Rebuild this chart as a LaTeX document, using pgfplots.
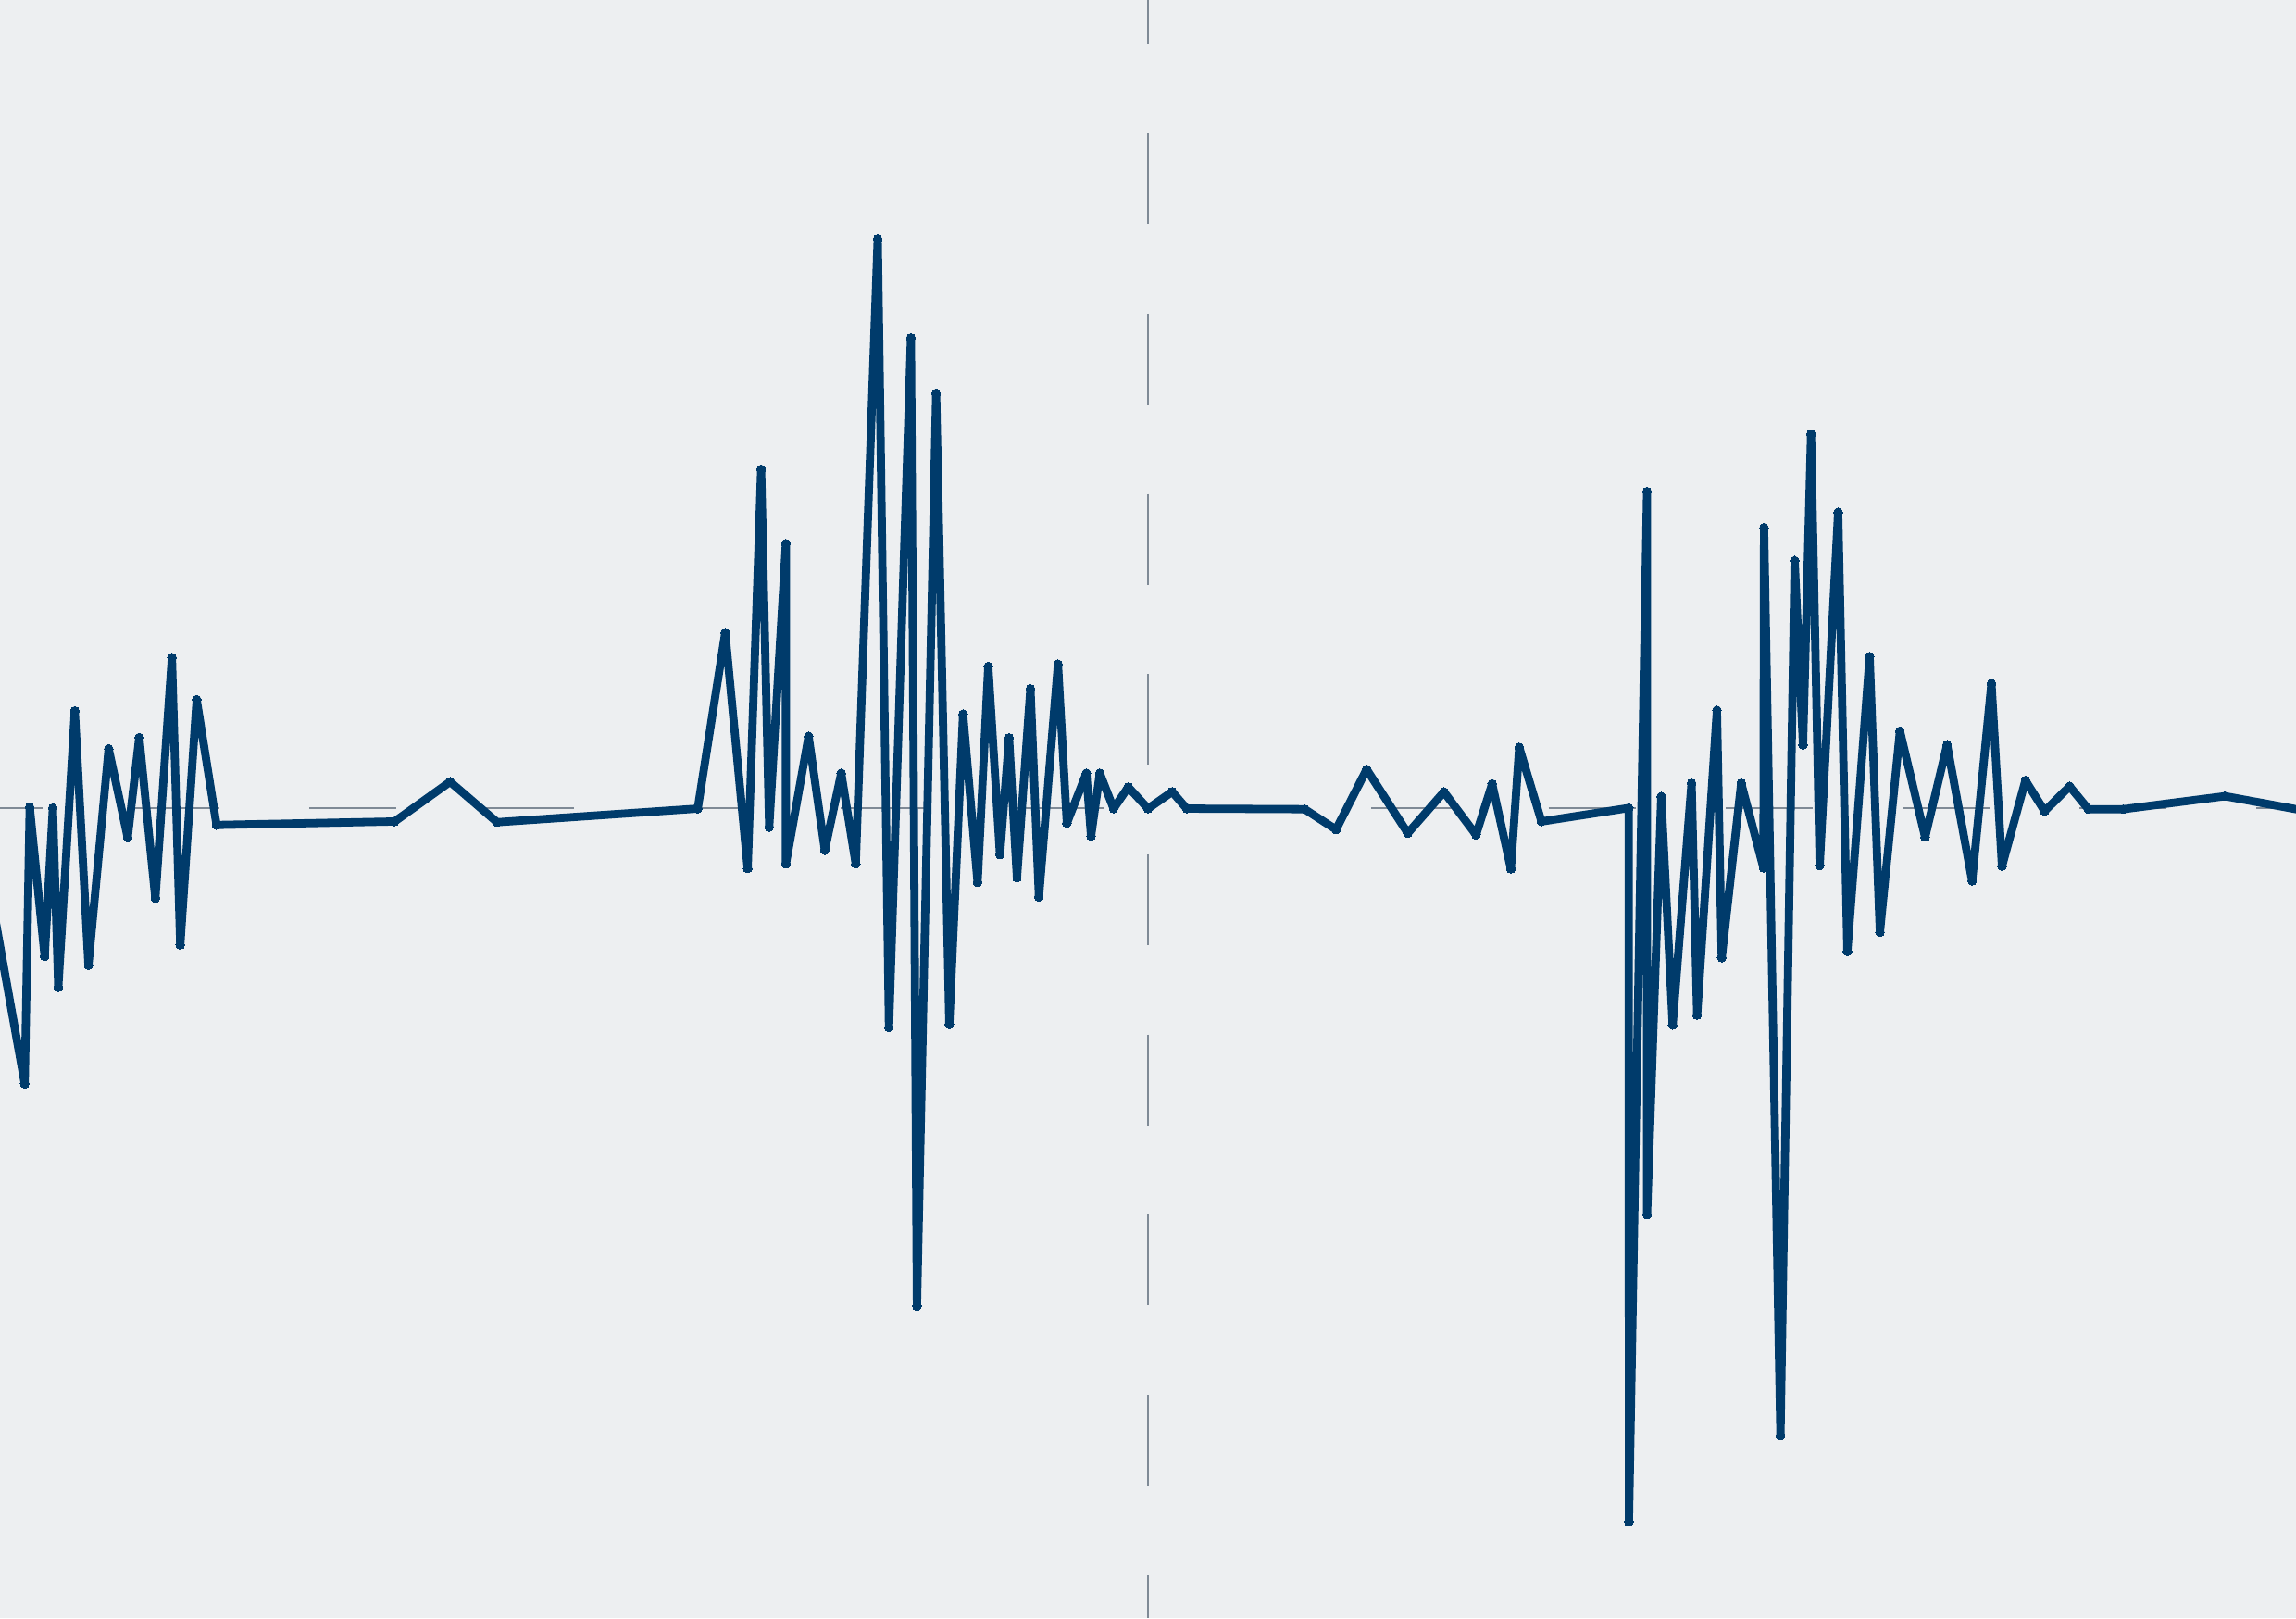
\documentclass[border=0pt]{standalone}
\usepackage{pgfplots}
\pgfplotsset{compat=1.18}
\definecolor{bgcol}{HTML}{EDEFF1}
\definecolor{linecol}{HTML}{003B6B}
\definecolor{refcol}{HTML}{7F8A96}
\pgfplotstableread{
x y
-10 -38
16.9 -188.1
20.3 0.7
30.5 -101
36.1 0.2
39.8 -122.2
51.1 66.5
60.4 -107
74.2 40.6
87.2 -19.9
95.1 48.3
106.1 -61.3
117.4 103
123.1 -93.2
134.3 74.2
147.9 -11.4
269.5 -9
307.4 18.1
339.5 -9.5
476.5 -0.2
495.3 119.9
510.6 -41.1
519.8 231.5
525.3 -12.8
536.7 180.7
536.7 -37.9
552.2 49.1
563.3 -28.5
574.5 23.9
584.4 -37.9
599.4 388.8
607.1 -149.6
622.1 321.2
626.2 -339.9
639.3 283.4
648.3 -147.5
657.7 64.3
667.6 -50.5
674.9 96.8
682.9 -31.6
689.1 48
694.5 -47.4
703.7 81.6
709.5 -60.5
722.5 98.4
728.6 -10.1
741.9 23.9
745.1 -19
751.1 23.9
760.5 -0.2
770.5 14.5
784 -0.2
800.5 11.3
810.4 -0.2
891 -0.6
912.4 -14.5
933.3 26.6
961.4 -17
986.1 11.2
1008 -18.1
1019 16.7
1031.8 -41.3
1037.5 41.6
1052.7 -9
1112.3 0.2
1112.4 -487.2
1124.8 216.3
1124.8 -277.5
1134.5 8
1142.3 -148
1155.2 17.1
1159 -141.2
1172.5 66.9
1175.8 -101.9
1189.1 17.1
1204.3 -40.6
1204.7 191.6
1215.9 -428.5
1225.6 169.1
1231.3 43.3
1236.8 255.6
1242.7 -39
1255.3 202.1
1261.6 -97.7
1276.8 103.6
1283.8 -84.6
1297.5 52.7
1314.7 -19.6
1329.7 43.3
1346.8 -49.5
1360 85.2
1367.2 -39.5
1383.2 19
1396.3 -1.9
1413.4 15
1426.2 -0.6
1450 -0.6
1519.5 8.3
1580 -2.8
}\signal
\begin{document}
\begin{tikzpicture}
\fill[bgcol] (0,0) rectangle (24.8cm,17.48cm);
\begin{axis}[
  at={(0,0)}, anchor=south west,
  scale only axis, width=24.8cm, height=17.48cm,
  xmin=0, xmax=1568, ymin=-553, ymax=552,
  hide axis, clip=true,
]
\draw[refcol, line width=0.65pt, dash pattern=on 27.9pt off 27.5pt, dash phase=14.4pt]
  (axis cs:784,552) -- (axis cs:784,-553);
\draw[refcol, line width=0.5pt, dash pattern=on 26.8pt off 27.6pt, dash phase=13.7pt]
  (axis cs:0,0) -- (axis cs:1568,0);
\addplot[linecol, line width=2.5pt, line join=round, mark=*, mark size=1.35pt,
  mark options={solid, fill=linecol, draw=linecol, line width=0pt}]
  table[x=x, y=y] {\signal};
\end{axis}
\pgfresetboundingbox
\useasboundingbox (0,0) rectangle (24.8cm,17.48cm);
\end{tikzpicture}
\end{document}
